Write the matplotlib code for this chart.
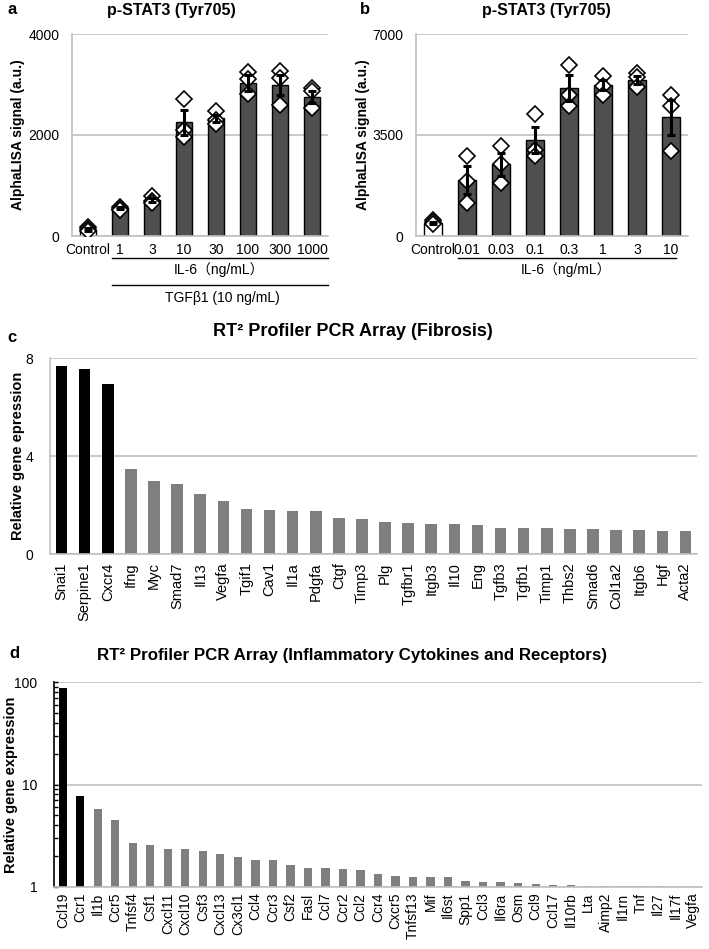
import numpy as np
import matplotlib
matplotlib.use("Agg")
import matplotlib.pyplot as plt
import matplotlib.transforms as mtransforms
from matplotlib.ticker import LogLocator, NullFormatter, FixedLocator

plt.rcParams['font.family'] = ['Liberation Sans', 'DejaVu Sans']

# ---- panel a: p-STAT3, IL-6 + TGFb1 ----
a_labels = ["Control", "1", "3", "10", "30", "100", "300", "1000"]
a_mean = [120, 550, 720, 2250, 2330, 3030, 2990, 2760]
a_sem = [30, 25, 40, 250, 70, 150, 190, 120]
a_points = [[170, 130, 90], [570, 540, 510], [800, 700, 650],
            [2720, 2100, 1960], [2480, 2300, 2220], [3250, 3100, 2810],
            [3260, 3130, 2600], [2930, 2870, 2530]]

# ---- panel b: p-STAT3, IL-6 only ----
b_labels = ["Control", "0.01", "0.03", "0.1", "0.3", "1", "3", "10"]
b_mean = [460, 1950, 2480, 3320, 5120, 5240, 5420, 4120]
b_sem = [40, 480, 390, 460, 450, 180, 140, 610]
b_points = [[560, 500, 420], [2780, 1920, 1140], [3130, 2510, 1830],
            [4230, 2970, 2770], [5930, 4900, 4490], [5560, 5190, 4880],
            [5660, 5520, 5170], [4900, 4490, 2950]]

# ---- panel c: fibrosis array ----
c_genes = ["Snai1", "Serpine1", "Cxcr4", "Ifng", "Myc", "Smad7", "Il13", "Vegfa",
           "Tgif1", "Cav1", "Il1a", "Pdgfa", "Ctgf", "Timp3", "Plg", "Tgfbr1",
           "Itgb3", "Il10", "Eng", "Tgfb3", "Tgfb1", "Timp1", "Thbs2", "Smad6",
           "Col1a2", "Itgb6", "Hgf", "Acta2"]
c_values = [7.68, 7.57, 6.92, 3.48, 3.0, 2.87, 2.45, 2.15, 1.85, 1.8, 1.77, 1.74,
            1.47, 1.44, 1.31, 1.28, 1.23, 1.23, 1.2, 1.06, 1.06, 1.06, 1.04, 1.04,
            0.98, 0.98, 0.95, 0.93]
c_n_black = 3

# ---- panel d: inflammatory cytokines array ----
d_genes = ["Ccl19", "Ccr1", "Il1b", "Ccr5", "Tnfsf4", "Csf1", "Cxcl11", "Cxcl10",
           "Csf3", "Cxcl13", "Cx3cl1", "Ccl4", "Ccr3", "Csf2", "Fasl", "Ccl7",
           "Ccr2", "Ccl2", "Ccr4", "Cxcr5", "Tnfsf13", "Mif", "Il6st", "Spp1",
           "Ccl3", "Il6ra", "Osm", "Ccl9", "Ccl17", "Il10rb", "Lta", "Aimp2",
           "Il1rn", "Tnf", "Il27", "Il17f", "Vegfa"]
d_values = [86.7, 7.7, 5.75, 4.46, 2.68, 2.55, 2.36, 2.33, 2.26, 2.10, 1.97, 1.85,
            1.82, 1.63, 1.53, 1.53, 1.51, 1.46, 1.35, 1.29, 1.26, 1.24, 1.24, 1.14,
            1.11, 1.11, 1.09, 1.07, 1.05, 1.05, 1.03, 1.03, 1.02, 1.02, 1.02, 1.0, 1.0]
d_n_black = 2

W, H = 709, 949
fig = plt.figure(figsize=(W / 100, H / 100), dpi=100)

GRID = '#c0c0c0'
BAR_DARK = '#4f4f4f'
CJK = ['Liberation Sans', 'Noto Sans CJK JP']
NARROW = ['Liberation Sans Narrow', 'Liberation Sans']


def px_axes(left, top, right, bottom):
    return fig.add_axes([left / W, 1 - bottom / H, (right - left) / W, (bottom - top) / H])


def style_axes(ax, left_color=GRID):
    for s in ['top', 'right']:
        ax.spines[s].set_visible(False)
    ax.spines['left'].set_color(left_color)
    ax.spines['bottom'].set_color(GRID)
    ax.spines['left'].set_linewidth(1.2)
    ax.spines['bottom'].set_linewidth(1.2)
    ax.yaxis.grid(True, color=GRID, lw=1.2)
    ax.set_axisbelow(True)
    ax.tick_params(axis='both', length=0, labelsize=10)


def alpha_panel(ax, labels, mean, sem, points, ymax, title_x):
    x = np.arange(len(labels))
    colors = ['white'] + [BAR_DARK] * (len(labels) - 1)
    ax.bar(x, mean, width=0.53, color=colors, edgecolor='black', lw=1.0, zorder=2)
    for i, pts in enumerate(points):
        ax.plot([i] * len(pts), pts, 'D', ms=8.5, mfc='white', mec='black', mew=1.2, zorder=3)
    ax.errorbar(x, mean, yerr=sem, fmt='none', ecolor='black', elinewidth=2.2,
                capsize=3, capthick=2.2, zorder=4)
    ax.set_xlim(-0.5, len(labels) - 0.5)
    ax.set_ylim(0, ymax)
    ax.set_yticks([0, ymax / 2, ymax])
    ax.set_yticklabels([f"{int(v)}" for v in [0, ymax / 2, ymax]])
    ax.set_xticks(x)
    ax.set_xticklabels(labels)
    style_axes(ax)
    ax.tick_params(axis='y', pad=9)
    ax.tick_params(axis='x', pad=5)
    ax.set_ylabel("AlphaLISA signal (a.u.)", fontsize=10, fontweight='bold')
    ax.set_title("p-STAT3 (Tyr705)", fontsize=11.5, fontweight='bold', pad=14, x=title_x)


# panel a
ax_a = px_axes(72, 34, 328, 236)
alpha_panel(ax_a, a_labels, a_mean, a_sem, a_points, 4000, 0.387)
ax_a.yaxis.set_label_coords(-0.184, 0.5)
tr_a = mtransforms.blended_transform_factory(ax_a.transData, ax_a.transAxes)
ax_a.plot([0.75, 7.5], [-0.109, -0.109], color='black', lw=1.0, transform=tr_a, clip_on=False)
ax_a.text(4.1, -0.168, "IL-6（ng/mL）", family=CJK, fontsize=10, ha='center', va='center', transform=tr_a)
ax_a.plot([0.75, 7.5], [-0.243, -0.243], color='black', lw=1.0, transform=tr_a, clip_on=False)
ax_a.text(4.2, -0.307, "TGFβ1 (10 ng/mL)", fontsize=10, ha='center', va='center', transform=tr_a)

# panel b
ax_b = px_axes(416, 34, 688, 236)
alpha_panel(ax_b, b_labels, b_mean, b_sem, b_points, 7000, 0.478)
ax_b.yaxis.set_label_coords(-0.169, 0.5)
tr_b = mtransforms.blended_transform_factory(ax_b.transData, ax_b.transAxes)
ax_b.plot([0.74, 7.15], [-0.109, -0.109], color='black', lw=1.0, transform=tr_b, clip_on=False)
ax_b.text(3.9, -0.168, "IL-6（ng/mL）", family=CJK, fontsize=10, ha='center', va='center', transform=tr_b)

# panel c
ax_c = px_axes(50, 358, 697, 554)
xc = np.arange(len(c_genes))
c_colors = ['black'] * c_n_black + ['#7f7f7f'] * (len(c_genes) - c_n_black)
ax_c.bar(xc, c_values, width=0.5, color=c_colors, zorder=2)
ax_c.set_xlim(-0.5, len(c_genes) - 0.5)
ax_c.set_ylim(0, 8)
ax_c.set_yticks([0, 4, 8])
ax_c.set_xticks(xc)
ax_c.set_xticklabels(c_genes, rotation=90, fontsize=10.5)
style_axes(ax_c)
ax_c.tick_params(axis='y', pad=12)
ax_c.tick_params(axis='x', pad=6, labelsize=10.5)
ax_c.set_ylabel("Relative gene epression", fontsize=10.5, fontweight='bold')
ax_c.yaxis.set_label_coords(-0.039, 0.5)
ax_c.set_title("RT² Profiler PCR Array (Fibrosis)", family=NARROW, fontsize=13,
               fontweight='bold', pad=16, x=0.468)

# panel d
ax_d = px_axes(54, 682, 702, 887)
xd = np.arange(len(d_genes))
d_colors = ['black'] * d_n_black + ['#7f7f7f'] * (len(d_genes) - d_n_black)
ax_d.set_yscale('log')
ax_d.bar(xd, np.array(d_values) - 1, bottom=1, width=0.47, color=d_colors, zorder=2)
ax_d.set_xlim(-0.5, len(d_genes) - 0.5)
ax_d.set_ylim(1, 100)
ax_d.yaxis.set_major_locator(FixedLocator([1, 10, 100]))
ax_d.set_yticklabels(["1", "10", "100"])
ax_d.yaxis.set_minor_locator(LogLocator(base=10, subs=np.arange(2, 10)))
ax_d.yaxis.set_minor_formatter(NullFormatter())
ax_d.set_xticks(xd)
ax_d.set_xticklabels(d_genes, rotation=90)
style_axes(ax_d, left_color='black')
ax_d.tick_params(axis='y', which='both', direction='in', length=3, width=1, color='black')
ax_d.tick_params(axis='y', pad=12)
ax_d.tick_params(axis='x', pad=4, labelsize=10)
ax_d.set_ylabel("Relative gene expression", fontsize=10.5, fontweight='bold')
ax_d.yaxis.set_label_coords(-0.056, 0.5)
ax_d.set_title("RT² Profiler PCR Array (Inflammatory Cytokines and Receptors)", family=NARROW,
               fontsize=12.2, fontweight='bold', pad=16, x=0.46)

# panel letters
for letter, px, py in [("a", 8, 10), ("b", 360, 10), ("c", 7, 338), ("d", 9, 653)]:
    fig.text(px / W, 1 - py / H, letter, fontsize=12, fontweight='bold', ha='left', va='center')

fig.savefig("out.png", dpi=100)
